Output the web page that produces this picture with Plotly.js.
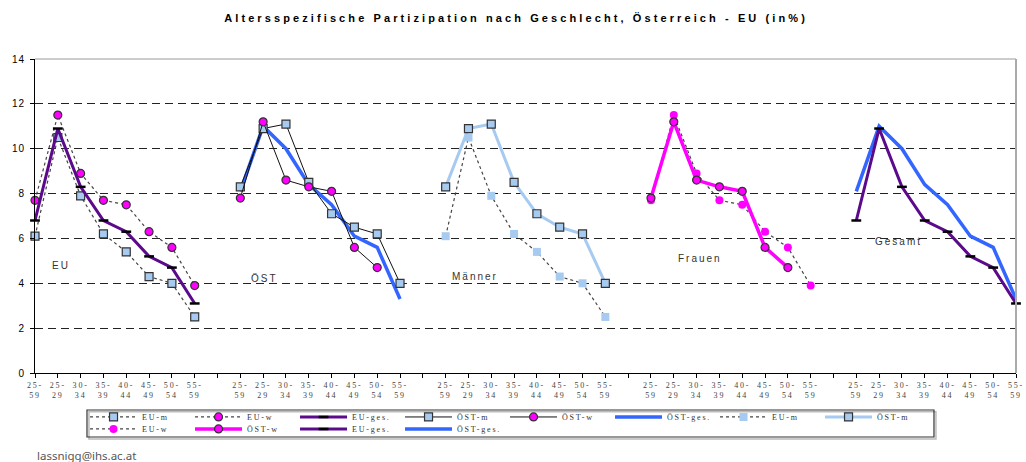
<!DOCTYPE html>
<html>
<head>
<meta charset="utf-8">
<script src="https://cdn.plot.ly/plotly-3.0.1.min.js"></script>
<style>
  html, body { margin: 0; padding: 0; background: #fff; }
  #chart { width: 1026px; height: 462px; }
  .gtitle { letter-spacing: 3.1px; }
  .xtick text { letter-spacing: 1.8px; }
  .ytick text { letter-spacing: 1px; }
</style>
</head>
<body>
<div id="chart"></div>
<script>
// ---- data (in %) ----
const ageGroups = ['25-59', '25-29', '30-34', '35-39', '40-44', '45-49', '50-54', '55-59'];
const panelNames = ['EU', 'ÖST', 'Männer', 'Frauen', 'Gesamt'];
const euM   = [6.1, 10.5, 7.9, 6.2, 5.4, 4.3, 4.0, 2.5];
const euW   = [7.7, 11.5, 8.9, 7.7, 7.5, 6.3, 5.6, 3.9];
const euGes = [6.8, 10.9, 8.3, 6.8, 6.3, 5.2, 4.7, 3.1];
const ostM  = [8.3, 10.9, 11.1, 8.5, 7.1, 6.5, 6.2, 4.0];
const ostW  = [7.8, 11.2, 8.6, 8.3, 8.1, 5.6, 4.7, null];
const ostGes= [8.1, 11.0, 10.0, 8.4, 7.5, 6.1, 5.6, 3.3];

// ---- styling ----
const LB = '#a6caf0', MAG = '#ff00ff', PURP = '#5c0a8c', BLUE = '#3366ff', DK = '#333333';
const step = ageGroups.length + 1;            // 8 categories + 1 blank slot per panel
const nSlots = panelNames.length * step - 1;   // 44 slots
function xs(p) { return ageGroups.map((_, i) => p * step + i); }
function spaced(t, px) { return '<span style="letter-spacing:' + px + 'px">' + t + '</span>'; }

const tickvals = [], ticktext = [];
for (let p = 0; p < panelNames.length; p++) {
  ageGroups.forEach((g, i) => {
    const parts = g.split('-');
    tickvals.push(p * step + i);
    ticktext.push(parts[0] + '-<br>' + parts[1]);
  });
  if (p < panelNames.length - 1) { tickvals.push(p * step + ageGroups.length); ticktext.push(' '); }
}

const sqB  = { symbol: 'square', size: 8, color: LB, line: { color: DK, width: 1.2 } };
const sqN  = { symbol: 'square', size: 8, color: LB, line: { width: 0 } };
const ciB  = { symbol: 'circle', size: 8, color: MAG, line: { color: DK, width: 1.2 } };
const ciN  = { symbol: 'circle', size: 8, color: MAG, line: { width: 0 } };
const dash = { symbol: 'line-ew', size: 7, color: '#000', line: { color: '#000', width: 2.5 } };
const dotLine = { color: '#444', dash: 'dot', width: 1.2 };

function tr(name, p, y, line, marker, legend, rank) {
  const t = { type: 'scatter', name: spaced(name, 1.8), x: xs(p), y: y, line: line, legend: legend,
              legendrank: rank, cliponaxis: false, hoverinfo: 'y', connectgaps: false };
  if (marker) { t.mode = 'lines+markers'; t.marker = marker; } else { t.mode = 'lines'; }
  return t;
}

const data = [
  tr('EU-m',   0, euM,   dotLine, sqB, 'legend', 1),
  tr('EU-w',   0, euW,   dotLine, ciB, 'legend', 2),
  tr('EU-ges.',0, euGes, { color: PURP, width: 3 }, dash, 'legend', 3),
  tr('ÖST-ges.',1, ostGes,{ color: BLUE, width: 3.5 }, null, 'legend', 6),
  tr('ÖST-m',  1, ostM,  { color: '#111', width: 1 }, sqB, 'legend', 4),
  tr('ÖST-w',  1, ostW,  { color: '#111', width: 1 }, ciB, 'legend', 5),
  tr('EU-m',   2, euM,   dotLine, sqN, 'legend', 7),
  tr('ÖST-m',  2, ostM,  { color: LB, width: 3 }, sqB, 'legend', 8),
  tr('EU-w',   3, euW,   dotLine, ciN, 'legend2', 1),
  tr('ÖST-w',  3, ostW,  { color: MAG, width: 3.5 }, ciB, 'legend2', 2),
  tr('ÖST-ges.',4, ostGes,{ color: BLUE, width: 3.5 }, null, 'legend2', 4),
  tr('EU-ges.',4, euGes, { color: PURP, width: 3 }, dash, 'legend2', 3)
];

// panel label positions (x in slot units, y in value units)
const labelPos = [[1.15, 4.8], [10.05, 4.2], [19.3, 4.3], [29.15, 5.1], [37.85, 5.85]];
const annotations = panelNames.map((n, p) => ({
  text: spaced(n, 2), x: labelPos[p][0], y: labelPos[p][1], xref: 'x', yref: 'y',
  showarrow: false, font: { family: 'Arial, Liberation Sans, sans-serif', size: 10, color: '#333' }
}));
annotations.push({
  text: 'lassnigg@ihs.ac.at', xref: 'paper', yref: 'paper', x: 0, y: -0.263,
  xanchor: 'left', yanchor: 'middle', showarrow: false,
  font: { family: 'Noto Sans, sans-serif', size: 11.5, color: '#555' }
});

const legendFont = { family: 'Liberation Serif, serif', size: 8, color: '#333' };
const legendCommon = {
  orientation: 'h', xref: 'paper', yref: 'paper', xanchor: 'left', yanchor: 'middle',
  x: 0.051, bgcolor: 'rgba(0,0,0,0)', borderwidth: 0, font: legendFont,
  itemwidth: 47, entrywidth: 43, entrywidthmode: 'pixels', traceorder: 'normal',
  itemclick: false, itemdoubleclick: false
};

const layout = {
  width: 1026, height: 462,
  margin: { l: 35, r: 10, t: 59, b: 89 },
  paper_bgcolor: '#fff', plot_bgcolor: '#fff',
  font: { family: 'Arial, Liberation Sans, sans-serif', color: '#000' },
  title: {
    text: 'Altersspezifische Partizipation nach Geschlecht, Österreich - EU (in%)',
    font: { family: 'Arial, Liberation Sans, sans-serif', size: 11, color: '#000', weight: 'bold' },
    x: 0.503, xref: 'container', xanchor: 'center', y: 1 - 18 / 462, yref: 'container', yanchor: 'middle'
  },
  xaxis: {
    range: [0, nSlots - 1], tickmode: 'array', tickvals: tickvals, ticktext: ticktext,
    tickangle: 0, ticks: 'outside', ticklen: 4, tickcolor: '#000', tickwidth: 1,
    ticklabeloverflow: 'allow',
    showline: true, linecolor: '#000', linewidth: 1, showgrid: false, zeroline: false,
    tickfont: { family: 'Liberation Serif, serif', size: 8, color: '#444' }, fixedrange: true
  },
  xaxis2: {
    overlaying: 'x', anchor: 'y', side: 'bottom', range: [0, nSlots - 1], tickmode: 'array',
    tickvals: tickvals, ticks: 'inside', ticklen: 4, tickcolor: '#000', showticklabels: false,
    showgrid: false, zeroline: false, showline: false, fixedrange: true
  },
  yaxis: {
    range: [0, 14], dtick: 2, tick0: 0, ticks: 'outside', ticklen: 4, tickcolor: '#000',
    showline: true, linecolor: '#000', linewidth: 1, zeroline: false,
    showgrid: true, gridcolor: '#222', gridwidth: 1, griddash: '8px,5px',
    tickfont: { family: 'Arial, Liberation Sans, sans-serif', size: 10, color: '#000' },
    ticklabelstandoff: 3, fixedrange: true
  },
  legend: Object.assign({}, legendCommon, { y: -0.140 }),
  legend2: Object.assign({}, legendCommon, { y: -0.178 }),
  showlegend: true,
  annotations: annotations,
  shapes: [
    { type: 'line', xref: 'paper', yref: 'paper', x0: 0, x1: 1, y0: 1, y1: 1, line: { color: '#999', width: 1 } },
    { type: 'line', xref: 'paper', yref: 'paper', x0: 1, x1: 1, y0: 0, y1: 1, line: { color: '#aaa', width: 2 } },
    { type: 'rect', xref: 'paper', yref: 'paper', x0: 0.053 + 0.002, x1: 0.9164 + 0.002, y0: -0.1178 - 0.006, y1: -0.2038 - 0.006,
      line: { color: '#bbb', width: 1.5 }, fillcolor: 'rgba(0,0,0,0)' },
    { type: 'rect', xref: 'paper', yref: 'paper', x0: 0.053, x1: 0.9164, y0: -0.1178, y1: -0.2038,
      line: { color: '#333', width: 1.2 }, fillcolor: 'rgba(0,0,0,0)' }
  ]
};

Plotly.newPlot('chart', data, layout, { staticPlot: true, displayModeBar: false });
</script>
</body>
</html>
